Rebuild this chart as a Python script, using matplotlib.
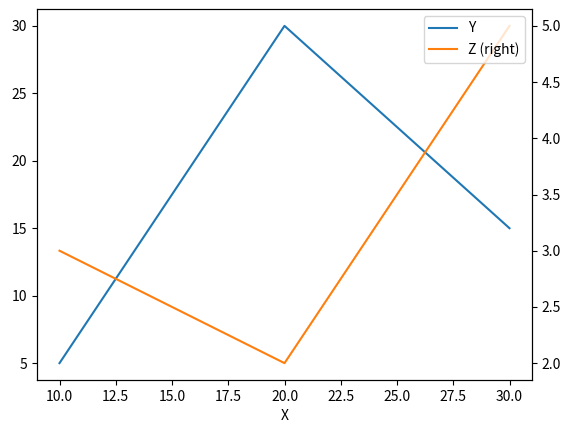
import matplotlib
matplotlib.use("Agg")
import matplotlib.pyplot as plt

plt.rcParams['font.family'] = ['Noto Sans CJK JP', 'DejaVu Sans']

x = [10, 20, 30]
y = [5, 30, 15]
z = [3, 2, 5]

fig = plt.figure(figsize=(5.74, 4.30), dpi=100)
ax = fig.add_axes([37/574, 1-380/430, (532-37)/574, (380-9)/430])
l1, = ax.plot(x, y, color='#1f77b4', label='Y')
ax2 = ax.twinx()
l2, = ax2.plot(x, z, color='#ff7f0e', label='Z (right)')
ax.set_xlabel('X')
ax2.legend([l1, l2], ['Y', 'Z (right)'], loc='upper right')
fig.savefig('out.png', dpi=100)
